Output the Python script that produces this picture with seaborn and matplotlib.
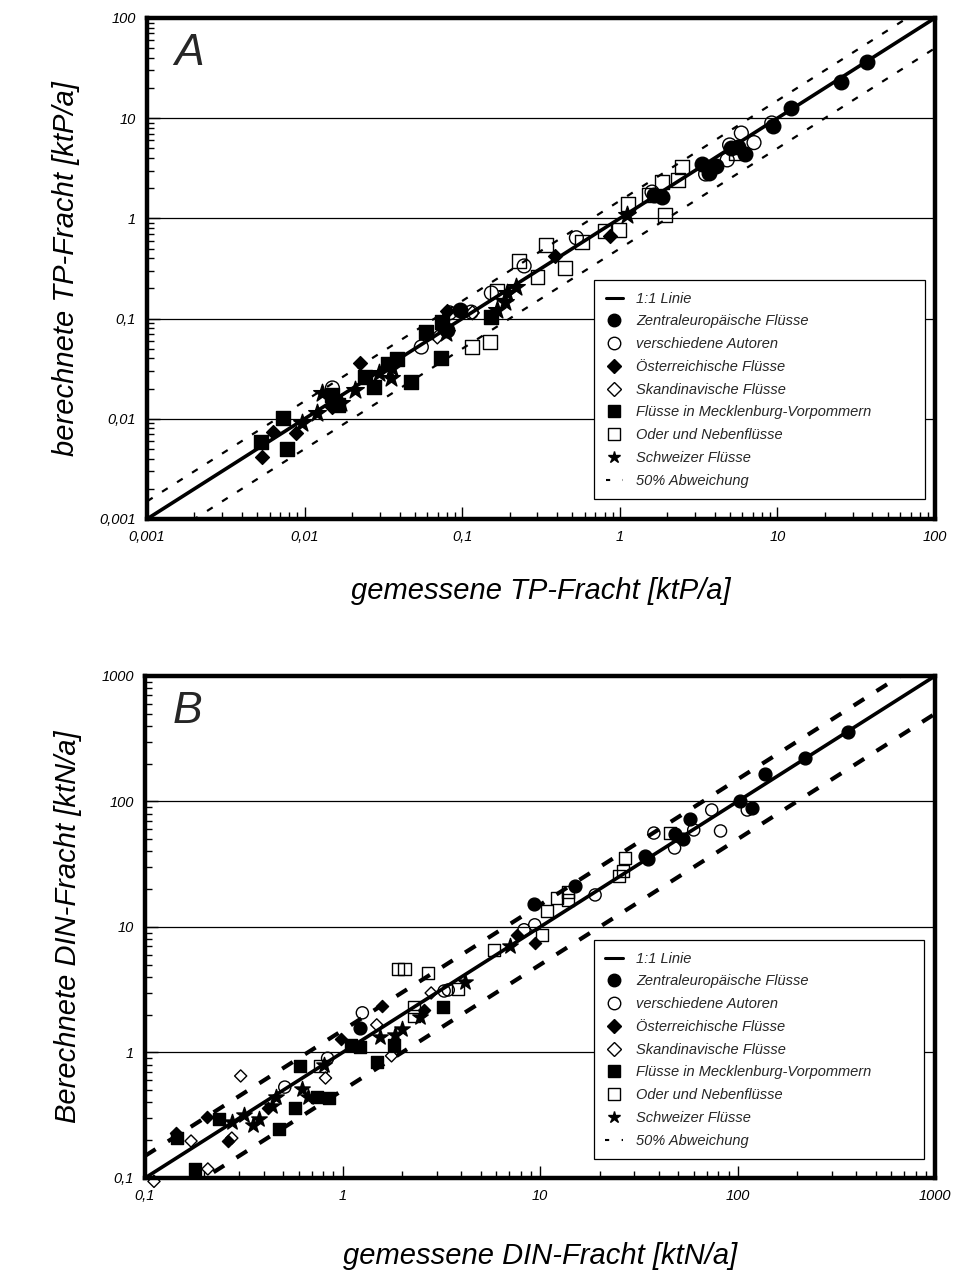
import matplotlib
matplotlib.use("Agg")
import matplotlib.pyplot as plt
import matplotlib.ticker as mticker
from matplotlib.lines import Line2D
import numpy as np
import pandas as pd
import seaborn as sns

# ---------- Panel A: TP (ktP/a), measured vs. calculated ----------
tp_ze_x = [37.1, 25.4, 12.1, 9.4, 5.66, 6.18, 5.1, 3.3, 3.66, 4.1, 1.64, 1.85, 0.097, 0.080]
tp_ze_y = [36.4, 23.0, 12.6, 8.4, 5.2, 4.4, 5.0, 3.5, 2.84, 3.33, 1.71, 1.64, 0.122, 0.077]
tp_va_x = [9.2, 5.9, 4.97, 7.1, 4.8, 3.5, 1.6, 0.53, 0.247, 0.153, 0.114, 0.083, 0.055, 0.015]
tp_va_y = [8.95, 7.1, 5.4, 5.7, 3.83, 2.77, 1.83, 0.64, 0.335, 0.18, 0.116, 0.114, 0.052, 0.0203]
tp_at_x = [0.865, 0.388, 0.080, 0.0226, 0.00626, 0.0088, 0.00535, 0.015]
tp_at_y = [0.667, 0.42, 0.119, 0.036, 0.0074, 0.0072, 0.00416, 0.0131]
tp_sk_x = [0.116, 0.0695]
tp_sk_y = [0.114, 0.0655]
tp_mv_x = [0.153, 0.0747, 0.059, 0.073, 0.0388, 0.034, 0.0475, 0.024, 0.0277, 0.015, 0.0164,
           0.00726, 0.00527, 0.0077]
tp_mv_y = [0.104, 0.0925, 0.0735, 0.0405, 0.0395, 0.0352, 0.0233, 0.0261, 0.0207, 0.0173, 0.0137,
           0.0102, 0.00586, 0.005]
tp_od_x = [2.47, 1.85, 2.33, 1.53, 1.12, 1.93, 5.42, 0.80, 0.986, 0.574, 0.34, 0.449, 0.30, 0.23,
           0.167, 0.116, 0.150]
tp_od_y = [3.26, 2.31, 2.41, 1.71, 1.39, 1.08, 4.5, 0.75, 0.766, 0.58, 0.54, 0.32, 0.26, 0.376,
           0.189, 0.052, 0.058]
tp_ch_x = [1.11, 0.22, 0.187, 0.167, 0.193, 0.079, 0.036, 0.0355, 0.0298, 0.021, 0.0128, 0.0171,
           0.0119, 0.0096]
tp_ch_y = [1.08, 0.207, 0.147, 0.122, 0.18, 0.0718, 0.0321, 0.0255, 0.0286, 0.0194, 0.0181, 0.0144,
           0.0114, 0.0091]

# ---------- Panel B: DIN (ktN/a) ----------
din_ze_x = [364, 220, 137, 103, 119, 57.3, 52.8, 48, 33.9, 35.1, 15, 9.33, 1.23]
din_ze_y = [358, 222, 166, 101, 88.7, 72.6, 50.2, 55, 36.8, 34.8, 21.2, 15.2, 1.57]
din_va_x = [74, 112, 82, 60, 48, 37.7, 19, 8.3, 9.4, 3.27, 3.43, 1.26, 0.84, 0.51]
din_va_y = [85.5, 85.5, 58.2, 59.3, 42.6, 56, 18, 9.5, 10.4, 3.09, 3.15, 2.07, 0.90, 0.53]
din_at_x = [7.65, 9.44, 1.59, 2.6, 0.977, 0.418, 0.262, 0.206, 0.143]
din_at_y = [8.6, 7.46, 2.35, 2.18, 1.28, 0.361, 0.197, 0.306, 0.229]
din_sk_x = [0.305, 0.171, 0.208, 0.111, 0.275, 0.82, 1.49, 1.77, 2.81]
din_sk_y = [0.65, 0.197, 0.118, 0.094, 0.208, 0.626, 1.66, 0.94, 2.98]
din_mv_x = [0.145, 0.237, 0.179, 0.475, 0.573, 0.607, 0.74, 0.85, 1.10, 1.23, 1.49, 1.83, 3.24]
din_mv_y = [0.208, 0.295, 0.118, 0.246, 0.361, 0.78, 0.44, 0.434, 1.15, 1.11, 0.84, 1.15, 2.31]
din_od_x = [45.4, 26.9, 25, 26.4, 13.8, 12.2, 13.8, 10.8, 10.2, 5.86, 2.72, 1.90, 2.06, 3.85,
            2.31, 2.29, 0.774]
din_od_y = [56, 35.5, 25.5, 27.9, 19, 17, 16.4, 13.4, 8.6, 6.56, 4.3, 4.62, 4.62, 3.2, 2.31,
            1.95, 0.78]
din_ch_x = [7.05, 4.18, 2.48, 2.01, 1.85, 1.54, 0.81, 0.62, 0.67, 0.46, 0.44, 0.377, 0.351,
            0.316, 0.275]
din_ch_y = [7.06, 3.65, 1.92, 1.54, 1.38, 1.33, 0.795, 0.51, 0.44, 0.44, 0.375, 0.295, 0.264,
            0.318, 0.279]

labels = ["Zentraleuropäische Flüsse", "verschiedene Autoren", "Österreichische Flüsse",
          "Skandinavische Flüsse", "Flüsse in Mecklenburg-Vorpommern", "Oder und Nebenflüsse",
          "Schweizer Flüsse"]
# marker, filled?, size factor
styles = [("o", True, 1.0), ("o", False, 0.9), ("D", True, 0.45), ("D", False, 0.45),
          ("s", True, 0.95), ("s", False, 0.9), ("*", True, 1.6)]

sns.set_theme(style="white")
plt.rcParams["font.family"] = ["Liberation Sans", "DejaVu Sans"]
plt.rcParams["font.style"] = "italic"

fig = plt.figure(figsize=(9.56, 12.72), dpi=100)
axA = fig.add_axes([0.1538, 0.592, 0.8243, 0.3939])
axB = fig.add_axes([0.1517, 0.0739, 0.8264, 0.3947])


def fmt(v, pos):
    return f"{v:g}".replace(".", ",")


def draw_panel(ax, series, lims, base_s, dash_lw, dash_pat, letter, xlabel, ylabel, leg_box,
               xpad):
    lo, hi = lims
    for (xs, ys), lab, (mk, filled, sf) in zip(series, labels, styles):
        df = pd.DataFrame({"x": xs, "y": ys})
        sns.scatterplot(data=df, x="x", y="y", ax=ax, marker=mk, s=base_s * sf,
                        color="black", facecolor="black" if filled else "none",
                        edgecolor="black", linewidth=1.0, zorder=3, clip_on=False)
    line = np.array([lo, hi])
    ax.plot(line, line, color="black", lw=2.6, zorder=4)
    ax.plot(line, line * 1.5, color="black", lw=dash_lw, dashes=dash_pat, zorder=4)
    ax.plot(line, line * 0.5, color="black", lw=dash_lw, dashes=dash_pat, zorder=4)

    ax.set_xscale("log")
    ax.set_yscale("log")
    ax.set_xlim(lo, hi)
    ax.set_ylim(lo, hi)
    ax.xaxis.set_major_formatter(mticker.FuncFormatter(fmt))
    ax.yaxis.set_major_formatter(mticker.FuncFormatter(fmt))
    ax.xaxis.set_minor_locator(mticker.LogLocator(subs=np.arange(2, 10)))
    ax.yaxis.set_minor_locator(mticker.LogLocator(subs=np.arange(2, 10)))
    ax.xaxis.set_minor_formatter(mticker.NullFormatter())
    ax.yaxis.set_minor_formatter(mticker.NullFormatter())
    ax.tick_params(which="major", direction="in", length=9, width=1.0, labelsize=10.5,
                   color="black", labelcolor="black", pad=8, left=True, bottom=True)
    ax.tick_params(which="minor", direction="in", length=5, width=1.0, color="black",
                   left=True, bottom=True)
    ax.grid(False)
    ax.yaxis.grid(True, which="major", color="black", lw=0.9)
    for sp in ax.spines.values():
        sp.set_color("black")
        sp.set_linewidth(3.2)
    ax.set_xlabel(xlabel, fontsize=21, labelpad=xpad, color="black")
    ax.set_ylabel(ylabel, fontsize=21, labelpad=14, color="black")
    ax.text(0.035, 0.97, letter, transform=ax.transAxes, fontsize=32, va="top", ha="left")

    handles = [Line2D([0], [0], color="black", lw=2.2)]
    for mk, filled, sf in styles:
        handles.append(Line2D([0], [0], ls="none", marker=mk, color="black",
                              markerfacecolor="black" if filled else "white",
                              markeredgecolor="black", markersize=9 if mk != "D" else 7,
                              markeredgewidth=1.0))
    handles.append(Line2D([0], [0], color="black", lw=1.5, dashes=(2, 6)))
    leg = ax.legend(handles, ["1:1 Linie"] + labels + ["50% Abweichung"], loc="upper left",
                    bbox_to_anchor=leg_box, mode="expand", fontsize=10.5, frameon=True,
                    fancybox=False, edgecolor="black", framealpha=1, labelspacing=0.6,
                    handlelength=1.2, handletextpad=0.9, borderpad=0.8, borderaxespad=0)
    leg.get_frame().set_linewidth(0.9)
    leg.set_zorder(10)


draw_panel(axA,
           [(tp_ze_x, tp_ze_y), (tp_va_x, tp_va_y), (tp_at_x, tp_at_y), (tp_sk_x, tp_sk_y),
            (tp_mv_x, tp_mv_y), (tp_od_x, tp_od_y), (tp_ch_x, tp_ch_y)],
           (0.001, 100), 110, 1.6, (3, 5), "A",
           "gemessene TP-Fracht [ktP/a]", "berechnete TP-Fracht [ktP/a]",
           (0.567, 0.044, 0.42, 0.433), 24)
draw_panel(axB,
           [(din_ze_x, din_ze_y), (din_va_x, din_va_y), (din_at_x, din_at_y), (din_sk_x, din_sk_y),
            (din_mv_x, din_mv_y), (din_od_x, din_od_y), (din_ch_x, din_ch_y)],
           (0.1, 1000), 85, 3.0, (3, 3.5), "B",
           "gemessene DIN-Fracht [ktN/a]", "Berechnete DIN-Fracht [ktN/a]",
           (0.568, 0.056, 0.418, 0.418), 28)

fig.savefig("out.png", dpi=100, facecolor="white")
